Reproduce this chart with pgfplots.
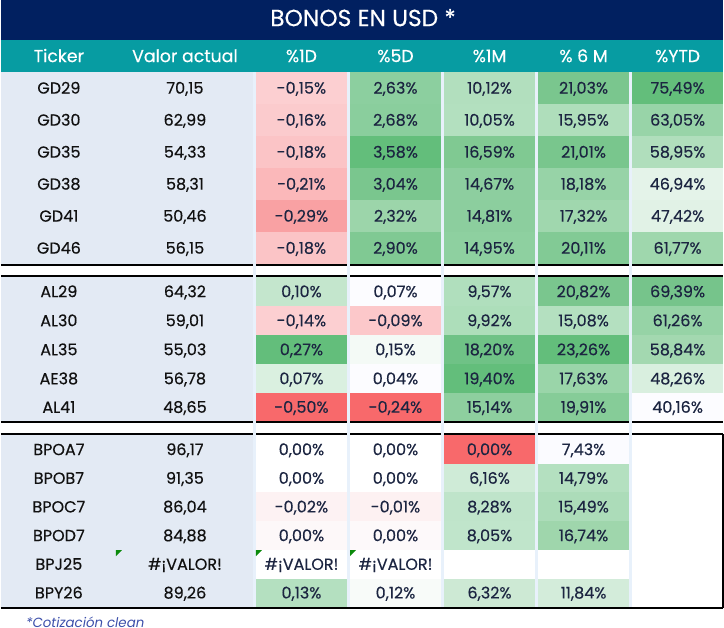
\documentclass[border=0pt]{standalone}
\usepackage{pgfplots}
\pgfplotsset{compat=1.18}
\usepackage{fontspec}
\setmainfont{Poppins}
\newfontfamily\med{Poppins}[FakeBold=0.35]
\definecolor{txt}{HTML}{1C2541}
\definecolor{tick}{HTML}{111111}
\definecolor{foot}{HTML}{3C4FAA}
\definecolor{tri}{HTML}{0B8A0B}
\newcommand{\fsz}{\med\fontsize{12}{14}\selectfont}
\newcommand{\rect}[5]{\xglobal\definecolor{c#5}{HTML}{#5}\addplot[fill=c#5,draw=none] coordinates {(#1,#3) (#2,#3) (#2,#4) (#1,#4)} -- cycle;}
\newcommand{\cell}[6]{\rect{#1}{#2}{#3}{#4}{#5}\node[dat] at (axis cs:{(#1+#2)/2},{(#3+#4)/2}) {#6};}
\newcommand{\lab}[4]{\node[tk] at (axis cs:58,{(#1+#2)/2}) {#3};\node[tk] at (axis cs:184,{(#1+#2)/2}) {#4};}
\newcommand{\sepline}[1]{\addplot[black,line width=1.3pt] coordinates {(0,#1) (722,#1)};}
\begin{document}
\begin{tikzpicture}[
  dat/.style={font=\fsz,text=txt,inner sep=0pt,text height=8.4pt,text depth=0pt},
  tk/.style={font=\fsz,text=tick,inner sep=0pt,text height=8.4pt,text depth=0pt},
  hd/.style={font=\med\fontsize{13}{15}\selectfont,text=white,inner sep=0pt,text height=9.1pt,text depth=0pt}]
\begin{axis}[scale only axis,width=543pt,height=479.25pt,hide axis,
  xmin=0,xmax=724,ymin=0,ymax=639,y dir=reverse,clip=false,no markers]
% title and header
\rect{0}{722}{1}{41}{012060}
\node[font=\med\fontsize{17.5}{20}\selectfont,text=white,inner sep=0pt,text height=12.2pt,text depth=0pt] at (axis cs:362,19) {BONOS EN USD *};
\rect{0}{722}{41}{73}{079CA2}
\node[hd] at (axis cs:58,57) {Ticker};
\node[hd] at (axis cs:184,57) {Valor actual};
\node[hd] at (axis cs:300.5,57) {\%1D};
\node[hd] at (axis cs:394.5,57) {\%5D};
\node[hd] at (axis cs:488.5,57) {\%1M};
\node[hd] at (axis cs:582.5,57) {\% 6 M};
\node[hd] at (axis cs:676.5,57) {\%YTD};
% group backgrounds
\rect{0}{252}{73}{265}{E3EAF4}
\rect{0}{252}{277}{422}{E3EAF4}
\rect{0}{252}{435}{608}{E3EAF4}
% group 1
\lab{73}{105}{GD29}{70,15}
\cell{255}{346}{73}{105}{FCCFD1}{-0,15\%}
\cell{349}{440}{73}{105}{8CCF9F}{2,63\%}
\cell{443}{534}{73}{105}{B2DFBE}{10,12\%}
\cell{537}{628}{73}{105}{7AC68E}{21,03\%}
\cell{631}{722}{73}{105}{63BE7B}{75,49\%}
\lab{105}{137}{GD30}{62,99}
\cell{255}{346}{105}{137}{FBCBCD}{-0,16\%}
\cell{349}{440}{105}{137}{8ACE9D}{2,68\%}
\cell{443}{534}{105}{137}{B3E0BF}{10,05\%}
\cell{537}{628}{105}{137}{AFDEBB}{15,95\%}
\cell{631}{722}{105}{137}{98D4A8}{63,05\%}
\lab{137}{169}{GD35}{54,33}
\cell{255}{346}{137}{169}{FBC4C6}{-0,18\%}
\cell{349}{440}{137}{169}{63BE7B}{3,58\%}
\cell{443}{534}{137}{169}{80C992}{16,59\%}
\cell{537}{628}{137}{169}{79C68D}{21,01\%}
\cell{631}{722}{137}{169}{B0DEBC}{58,95\%}
\lab{169}{201}{GD38}{58,31}
\cell{255}{346}{169}{201}{FBB8BA}{-0,21\%}
\cell{349}{440}{169}{201}{7AC68E}{3,04\%}
\cell{443}{534}{169}{201}{8DCE9F}{14,67\%}
\cell{537}{628}{169}{201}{97D3A7}{18,18\%}
\cell{631}{722}{169}{201}{E4F3E9}{46,94\%}
\lab{201}{233}{GD41}{50,46}
\cell{255}{346}{201}{233}{F9A1A3}{-0,29\%}
\cell{349}{440}{201}{233}{9CD5AA}{2,32\%}
\cell{443}{534}{201}{233}{8CCE9E}{14,81\%}
\cell{537}{628}{201}{233}{A0D7AE}{17,32\%}
\cell{631}{722}{201}{233}{E1F2E6}{47,42\%}
\lab{233}{265}{GD46}{56,15}
\cell{255}{346}{233}{265}{FBC4C6}{-0,18\%}
\cell{349}{440}{233}{265}{80C993}{2,90\%}
\cell{443}{534}{233}{265}{8ED0A0}{14,95\%}
\cell{537}{628}{233}{265}{82CA95}{20,11\%}
\cell{631}{722}{233}{265}{9FD7AD}{61,77\%}
% group 2
\lab{278}{307}{AL29}{64,32}
\cell{255}{346}{278}{307}{C4E6CD}{0,10\%}
\cell{349}{440}{278}{307}{FCFCFF}{0,07\%}
\cell{443}{534}{278}{307}{B0DFBD}{9,57\%}
\cell{537}{628}{278}{307}{7AC68E}{20,82\%}
\cell{631}{722}{278}{307}{76C48B}{69,39\%}
\lab{307}{336}{AL30}{59,01}
\cell{255}{346}{307}{336}{FCCFD1}{-0,14\%}
\cell{349}{440}{307}{336}{FCC8CA}{-0,09\%}
\cell{443}{534}{307}{336}{ADDEBA}{9,92\%}
\cell{537}{628}{307}{336}{B4E0C0}{15,08\%}
\cell{631}{722}{307}{336}{96D3A6}{61,26\%}
\lab{336}{365}{AL35}{55,03}
\cell{255}{346}{336}{365}{63BE7B}{0,27\%}
\cell{349}{440}{336}{365}{F4FAF6}{0,15\%}
\cell{443}{534}{336}{365}{6FC286}{18,20\%}
\cell{537}{628}{336}{365}{63BE7B}{23,26\%}
\cell{631}{722}{336}{365}{A3D8B0}{58,84\%}
\lab{365}{394}{AE38}{56,78}
\cell{255}{346}{365}{394}{DAF0E0}{0,07\%}
\cell{349}{440}{365}{394}{FCFCFF}{0,04\%}
\cell{443}{534}{365}{394}{63BE7B}{19,40\%}
\cell{537}{628}{365}{394}{9AD5A9}{17,63\%}
\cell{631}{722}{365}{394}{D9EFDF}{48,26\%}
\lab{394}{422}{AL41}{48,65}
\cell{255}{346}{394}{422}{F8696B}{-0,50\%}
\cell{349}{440}{394}{422}{F8696B}{-0,24\%}
\cell{443}{534}{394}{422}{8ECF9F}{15,14\%}
\cell{537}{628}{394}{422}{86CC98}{19,91\%}
\cell{631}{722}{394}{422}{FCFCFF}{40,16\%}
% group 3
\lab{436}{464.7}{BPOA7}{96,17}
\cell{255}{346}{436}{464.7}{FFFFFF}{0,00\%}
\cell{349}{440}{436}{464.7}{FFFFFF}{0,00\%}
\cell{443}{534}{436}{464.7}{F8696B}{0,00\%}
\cell{537}{628}{436}{464.7}{FBFBFF}{7,43\%}
\lab{464.7}{493.3}{BPOB7}{91,35}
\cell{255}{346}{464.7}{493.3}{FFFFFF}{0,00\%}
\cell{349}{440}{464.7}{493.3}{FFFFFF}{0,00\%}
\cell{443}{534}{464.7}{493.3}{CFEBD7}{6,16\%}
\cell{537}{628}{464.7}{493.3}{B4E0C0}{14,79\%}
\lab{493.3}{522}{BPOC7}{86,04}
\cell{255}{346}{493.3}{522}{FDF2F3}{-0,02\%}
\cell{349}{440}{493.3}{522}{FDF1F2}{-0,01\%}
\cell{443}{534}{493.3}{522}{BFE4CA}{8,28\%}
\cell{537}{628}{493.3}{522}{ACDCB9}{15,49\%}
\lab{522}{550.7}{BPOD7}{84,88}
\cell{255}{346}{522}{550.7}{FDF8F9}{0,00\%}
\cell{349}{440}{522}{550.7}{FDF9FA}{0,00\%}
\cell{443}{534}{522}{550.7}{C0E5CB}{8,05\%}
\cell{537}{628}{522}{550.7}{9FD6AC}{16,74\%}
\lab{550.7}{579.3}{BPJ25}{\#¡VALOR!}
\cell{255}{346}{550.7}{579.3}{FFFFFF}{\#¡VALOR!}
\cell{349}{440}{550.7}{579.3}{FFFFFF}{\#¡VALOR!}
\lab{579.3}{608}{BPY26}{89,26}
\cell{255}{346}{579.3}{608}{B4E0C0}{0,13\%}
\cell{349}{440}{579.3}{608}{F8FBF9}{0,12\%}
\cell{443}{534}{579.3}{608}{CDE9D4}{6,32\%}
\cell{537}{628}{579.3}{608}{D3ECDA}{11,84\%}
% separator lines
\sepline{266}
\sepline{277}
\sepline{422.5}
\sepline{435}
\sepline{608.5}
\addplot[black,line width=1pt] coordinates {(722,435) (722,608.5)};
% column gaps
\rect{252}{255}{73}{608}{E8F1FB}
\rect{346}{349}{73}{608}{E8F1FB}
\rect{440}{443}{73}{608}{E8F1FB}
\rect{534}{537}{73}{608}{E8F1FB}
\rect{628}{631}{73}{608}{E8F1FB}
% error indicators
\addplot[fill=tri,draw=none] coordinates {(115,551) (121,551) (115,557)} -- cycle;
\addplot[fill=tri,draw=none] coordinates {(255,551) (261,551) (255,557)} -- cycle;
\addplot[fill=tri,draw=none] coordinates {(349,551) (355,551) (349,557)} -- cycle;
% footnote
\node[anchor=west,inner sep=0pt,font=\fontsize{10}{12}\selectfont\itshape,text=foot] at (axis cs:25,623) {*Cotización clean};
\end{axis}
\end{tikzpicture}
\end{document}
